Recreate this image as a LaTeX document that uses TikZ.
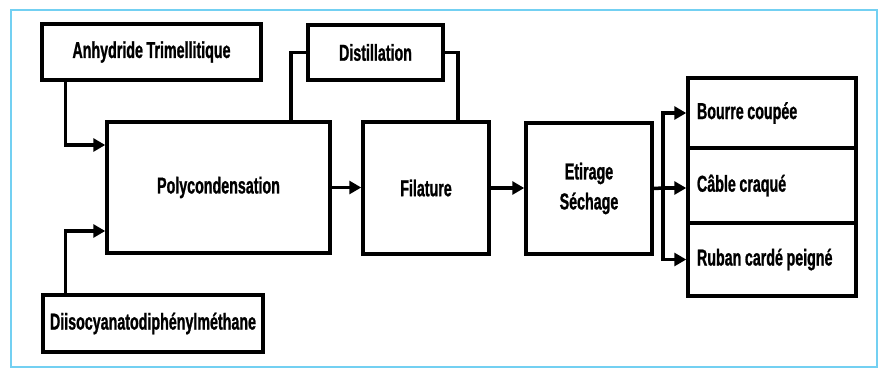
\documentclass[tikz,border=0pt]{standalone}
\usepackage{fontspec}
\setmainfont{Liberation Sans}[FakeStretch=0.62, WordSpace=0.9, BoldFeatures={FakeBold=1}]
\usetikzlibrary{arrows.meta}
\definecolor{framecol}{RGB}{115,208,242}
\newcommand{\lefttext}[1]{\makebox[150pt][l]{#1}}
\tikzset{
  box/.style={draw=black, line width=3.5pt, rectangle, inner sep=0pt, align=center,
    font=\fontsize{23}{30}\bfseries\selectfont},
  outbox/.style={box, minimum width=168pt},
  link/.style={draw=black, line width=3.5pt},
  arr/.style={link, -{Triangle[length=12pt,width=13pt]}},
}
\begin{document}
\begin{tikzpicture}[x=1pt,y=-1pt]
\useasboundingbox (0,0) rectangle (879,373);
\fill[white] (0,0) rectangle (879,373);
\draw[framecol, line width=2pt] (11,10) rectangle (877,367);

\node[box, minimum width=219pt, minimum height=56pt] (anh) at (151.5,52) {Anhydride Trimellitique};
\node[box, minimum width=135pt, minimum height=55pt] (dist) at (375.5,52.5) {Distillation};
\node[box, minimum width=223pt, minimum height=131pt] (poly) at (218.5,187.5) {Polycondensation};
\node[box, minimum width=220pt, minimum height=57pt] (diis) at (153,323.5) {Diisocyanatodiphénylméthane};
\node[box, minimum width=126pt, minimum height=132pt] (fil) at (426,188) {Filature};
\node[box, minimum width=126pt, minimum height=131pt] (eti) at (589,188.5) {Etirage\\Séchage};
\node[outbox, minimum height=70pt] (bour) at (772,113) {\lefttext{Bourre coupée}};
\node[outbox, minimum height=75pt] (cab) at (772,185.5) {\lefttext{Câble craqué}};
\node[outbox, minimum height=73pt] (rub) at (772,259.5) {\lefttext{Ruban cardé peigné}};

\coordinate (br) at (663,188);

\draw[arr] ([xshift=25pt]anh.south west) |- ([yshift=42.5pt]poly.west);
\draw[arr] ([xshift=24pt]diis.north west) |- ([yshift=-43.5pt]poly.west);
\draw[link] (dist.west) -| ([xshift=72.5pt]poly.north);
\draw[link] (dist.east) -| ([xshift=32pt]fil.north);
\draw[arr] (poly.east) -- (poly.east -| fil.west);
\draw[arr] (fil.east) -- (fil.east -| eti.west);
\draw[link] (eti.east) -- (br);
\draw[arr] (br) |- (bour.west);
\draw[arr] (br) -- (br -| cab.west);
\draw[arr] (br) |- (rub.west);
\end{tikzpicture}
\end{document}
